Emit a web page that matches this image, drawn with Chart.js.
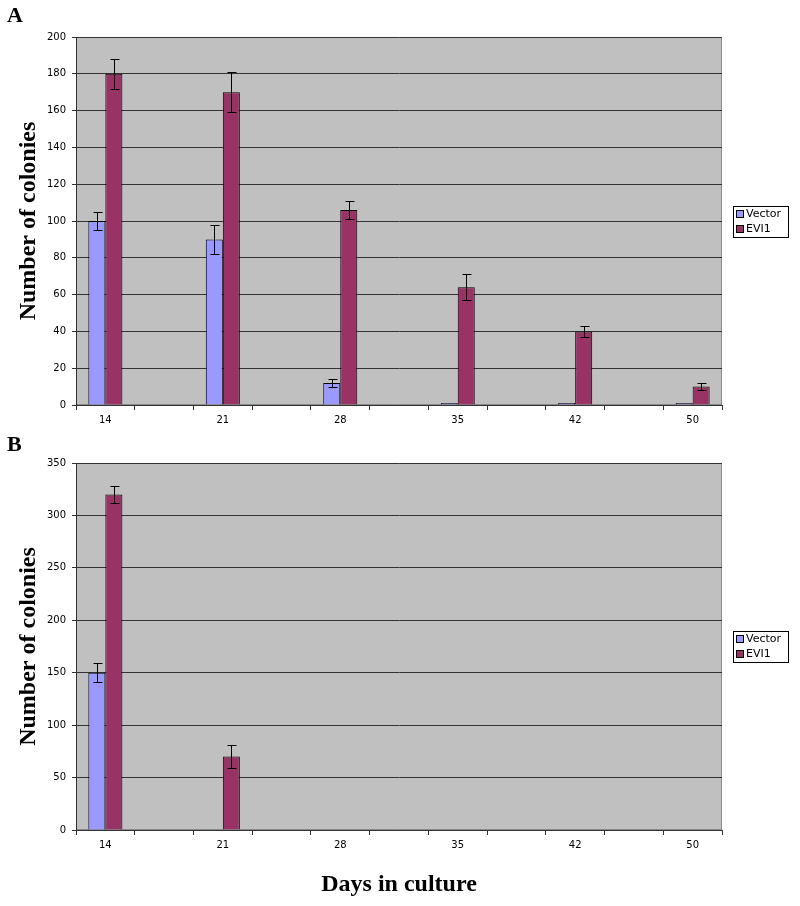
<!DOCTYPE html>
<html><head><meta charset="utf-8">
<script src="https://cdn.jsdelivr.net/npm/chart.js@4"></script>
<style>
html,body{margin:0;padding:0;background:#fff;width:800px;height:906px;overflow:hidden;position:relative}
.panel{position:absolute;left:0}
.lbl{position:absolute;left:7px;font:bold 22px "Liberation Serif","Times New Roman",serif;line-height:22px;color:#000}
</style></head><body>
<canvas id="cA" class="panel" style="top:0" width="800" height="430"></canvas>
<canvas id="cB" class="panel" style="top:430px" width="800" height="476"></canvas>
<div class="lbl" style="top:4px">A</div>
<div class="lbl" style="top:433px">B</div>
<script>
// Categories (days in culture); blank slots sit between labelled days
const categories = ['14','','21','','28','','35','','42','','50'];
const seriesNames = ['Vector','EVI1'];
const seriesColors = ['#9999ff','#993366'];

// Panel A
const vectorA    = [100,null,90,null,12,null,0,null,0,null,0];
const vectorErrA = [5,null,8,null,2,null,0,null,0,null,0];
const evi1A      = [180,null,170,null,106,null,64,null,40,null,10];
const evi1ErrA   = [8,null,11,null,5,null,7,null,3,null,2];
const yTicksA = {max:200, step:20};

// Panel B
const vectorB    = [150,null,null,null,null,null,null,null,null,null,null];
const vectorErrB = [9,null,null,null,null,null,null,null,null,null,null];
const evi1B      = [320,null,70,null,null,null,null,null,null,null,null];
const evi1ErrB   = [8,null,11,null,null,null,null,null,null,null,null];
const yTicksB = {max:350, step:50};

const yTitle = 'Number of colonies';
const xTitle = 'Days in culture';

const tickFont = {family:'"DejaVu Sans", Verdana, sans-serif', size:10};
const titleFont = {family:'"Liberation Serif", "Times New Roman", serif', size:24, weight:'bold'};

const bgPlugin = {
  id:'bg',
  beforeDraw(chart){
    const {ctx, chartArea:a} = chart;
    ctx.save();
    ctx.fillStyle = '#c0c0c0';
    ctx.fillRect(a.left, a.top, a.right-a.left, a.bottom-a.top);
    ctx.strokeStyle = '#8a8a8a';
    ctx.lineWidth = 1;
    ctx.strokeRect(a.left+0.5, a.top+0.5, a.right-a.left-1, a.bottom-a.top-1);
    ctx.restore();
  }
};

const errPlugin = {
  id:'errbars',
  afterDatasetsDraw(chart){
    const {ctx} = chart;
    const y = chart.scales.y;
    ctx.save();
    ctx.strokeStyle = '#000';
    ctx.lineWidth = 1;
    chart.data.datasets.forEach((ds, di) => {
      const meta = chart.getDatasetMeta(di);
      ds.data.forEach((v, i) => {
        const e = ds.err[i];
        if (v == null || e == null || e === 0) return;
        const bar = meta.data[i];
        const x = Math.round(bar.x) + 0.5;
        const t = Math.round(y.getPixelForValue(v + e)) + 0.5;
        const b = Math.round(y.getPixelForValue(v - e)) + 0.5;
        ctx.beginPath();
        ctx.moveTo(x, t); ctx.lineTo(x, b);
        ctx.moveTo(x-4, t); ctx.lineTo(x+5, t);
        ctx.moveTo(x-4, b); ctx.lineTo(x+5, b);
        ctx.stroke();
      });
    });
    ctx.restore();
  }
};

const legendPlugin = {
  id:'boxlegend',
  afterDraw(chart){
    const {ctx, chartArea:a} = chart;
    const w = 55, h = 31;
    const x0 = a.right + 11;
    const y0 = Math.round((a.top + a.bottom)/2 - h/2);
    ctx.save();
    ctx.fillStyle = '#fff';
    ctx.fillRect(x0, y0, w, h);
    ctx.strokeStyle = '#000';
    ctx.lineWidth = 1;
    ctx.strokeRect(x0+0.5, y0+0.5, w, h);
    ctx.font = '11px "DejaVu Sans", Verdana, sans-serif';
    ctx.textBaseline = 'middle';
    chart.data.datasets.forEach((ds, i) => {
      const cy = y0 + 8 + i*15;
      ctx.fillStyle = ds.backgroundColor;
      ctx.fillRect(x0+3.5, cy-3.5, 7, 7);
      ctx.strokeStyle = '#000';
      ctx.strokeRect(x0+3.5, cy-3.5, 7, 7);
      ctx.fillStyle = '#000';
      ctx.fillText(ds.label, x0+13, cy+0.5);
    });
    ctx.restore();
  }
};

function makeChart(id, vec, vecErr, evi, eviErr, yt, xAxisHeight, showXTitle, topPad){
  return new Chart(document.getElementById(id), {
    type:'bar',
    data:{
      labels: categories,
      datasets:[
        {label:seriesNames[0], data:vec, err:vecErr, backgroundColor:seriesColors[0], borderColor:'#000', borderWidth:1, minBarLength:2},
        {label:seriesNames[1], data:evi, err:eviErr, backgroundColor:seriesColors[1], borderColor:'#000', borderWidth:1}
      ]
    },
    options:{
      responsive:false,
      animation:false,
      events:[],
      layout:{padding:{top:topPad, right:78, left:0, bottom:0}},
      datasets:{bar:{categoryPercentage:0.58, barPercentage:1.0, skipNull:false}},
      plugins:{legend:{display:false}, tooltip:{enabled:false}},
      scales:{
        x:{
          offset:true,
          grid:{offset:true, drawOnChartArea:false, tickLength:5, color:'#333'},
          border:{color:'#333'},
          ticks:{font:tickFont, color:'#000', padding:4, maxRotation:0, autoSkip:false},
          title:{display:showXTitle, text:xTitle, font:titleFont, color:'#000', padding:{top:0,bottom:7}},
          afterFit(s){ s.height = xAxisHeight; }
        },
        y:{
          min:0, max:yt.max,
          grid:{color:'#333', tickLength:4},
          border:{color:'#333'},
          ticks:{stepSize:yt.step, font:tickFont, color:'#000', padding:6},
          title:{display:true, text:yTitle, font:titleFont, color:'#000', padding:{top:14,bottom:0}},
          afterFit(s){ s.width = 76; }
        }
      }
    },
    plugins:[bgPlugin, errPlugin, legendPlugin]
  });
}

makeChart('cA', vectorA, vectorErrA, evi1A, evi1ErrA, yTicksA, 25, false, 37);
makeChart('cB', vectorB, vectorErrB, evi1B, evi1ErrB, yTicksB, 76, true, 33);
</script>
</body></html>
